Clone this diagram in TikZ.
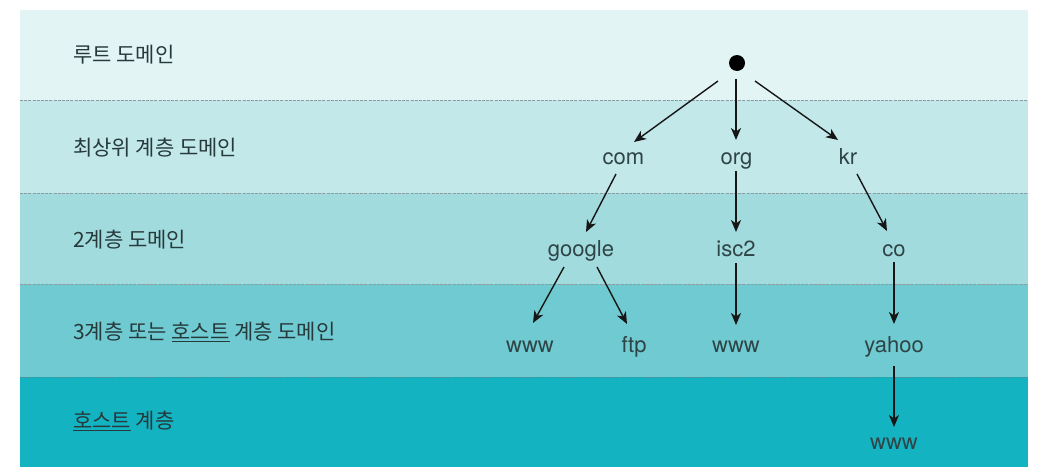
\documentclass[tikz,border=0pt]{standalone}
\usepackage{fontspec}
\setmainfont{TeX Gyre Heros}
\newfontfamily\kr{Noto Sans CJK KR}
\usetikzlibrary{arrows.meta}
\definecolor{bandA}{HTML}{E3F4F5}
\definecolor{bandB}{HTML}{C2E8EA}
\definecolor{bandC}{HTML}{A2DBDE}
\definecolor{bandD}{HTML}{6FCBD1}
\definecolor{bandE}{HTML}{14B3C2}
\definecolor{sepgray}{HTML}{8A9EA1}
\definecolor{labtxt}{HTML}{26393B}
\definecolor{domtxt}{HTML}{2E4446}
\definecolor{arrcol}{HTML}{161616}
\tikzset{
  layerlabel/.style={anchor=west,inner sep=0pt,text=labtxt,font=\kr\fontsize{21}{24}\selectfont},
  dom/.style={anchor=base,inner sep=0pt,text=domtxt,font=\fontsize{22}{26}\selectfont},
  sepline/.style={sepgray,line width=1pt,dash pattern=on 3pt off 1.2pt},
  arr/.style={arrcol,line width=1.4pt,-{Stealth[length=12pt,width=10pt,inset=3.5pt]}}
}
\begin{document}
\begin{tikzpicture}[x=1pt,y=-1pt]
\useasboundingbox (0,0) rectangle (1049,474);
\fill[white] (0,0) rectangle (1049,474);
% bands
\fill[bandA] (20,10) rectangle (1028,100);
\fill[bandB] (20,100) rectangle (1028,193);
\fill[bandC] (20,193) rectangle (1028,284);
\fill[bandD] (20,284) rectangle (1028,377);
\fill[bandE] (20,377) rectangle (1028,467);
\draw[sepline] (20,100) -- (1028,100);
\draw[sepline] (20,193) -- (1028,193);
\draw[sepline] (20,284) -- (1028,284);
\draw[sepline,draw=bandE!70!black!80] (20,377) -- (1028,377);
% layer labels
\node[layerlabel] (l1) at (73,55) {루트 도메인};
\node[layerlabel] (l2) at (73,148) {최상위 계층 도메인};
\node[layerlabel] (l3) at (73,240) {2계층 도메인};
\node[layerlabel] (l4) at (73,332) {3계층 또는 \underline{호스트} 계층 도메인};
\node[layerlabel] (l5) at (73,421) {\underline{호스트} 계층};
% tree nodes
\node[circle,fill=black,inner sep=0pt,minimum size=16pt] (root) at (737,63) {};
\node[dom] (com) at (623.5,164) {com};
\node[dom] (org) at (736.5,164) {org};
\node[dom] (kr) at (848,164) {kr};
\node[dom] (google) at (581,256) {google};
\node[dom] (isc2) at (736,256) {isc2};
\node[dom] (co) at (894,256) {co};
\node[dom] (www1) at (530,352) {www};
\node[dom] (ftp) at (634,352) {ftp};
\node[dom] (www2) at (736,352) {www};
\node[dom] (yahoo) at (894,352) {yahoo};
\node[dom] (www3) at (894,449) {www};
% connectors
\draw[arr] ([shift={(-19,18)}]root.center) -- ([shift={(10.5,-22)}]com.base);
\draw[arr] ([shift={(-1,16)}]root.center) -- ([shift={(-0.5,-24)}]org.base);
\draw[arr] ([shift={(18,18)}]root.center) -- ([shift={(-10,-24)}]kr.base);
\draw[arr] ([shift={(-7.5,10)}]com.base) -- ([shift={(5,-24)}]google.base);
\draw[arr] ([shift={(-0.5,7)}]org.base) -- ([shift={(0,-24)}]isc2.base);
\draw[arr] ([shift={(9,10)}]kr.base) -- ([shift={(-7,-25)}]co.base);
\draw[arr] ([shift={(-17,11)}]google.base) -- ([shift={(3,-29)}]www1.base);
\draw[arr] ([shift={(16,11)}]google.base) -- ([shift={(-7,-28)}]ftp.base);
\draw[arr] ([shift={(0,7)}]isc2.base) -- ([shift={(0,-27)}]www2.base);
\draw[arr] ([shift={(0,6)}]co.base) -- ([shift={(0,-28)}]yahoo.base);
\draw[arr] ([shift={(0,14)}]yahoo.base) -- ([shift={(0,-22)}]www3.base);
\end{tikzpicture}
\end{document}
